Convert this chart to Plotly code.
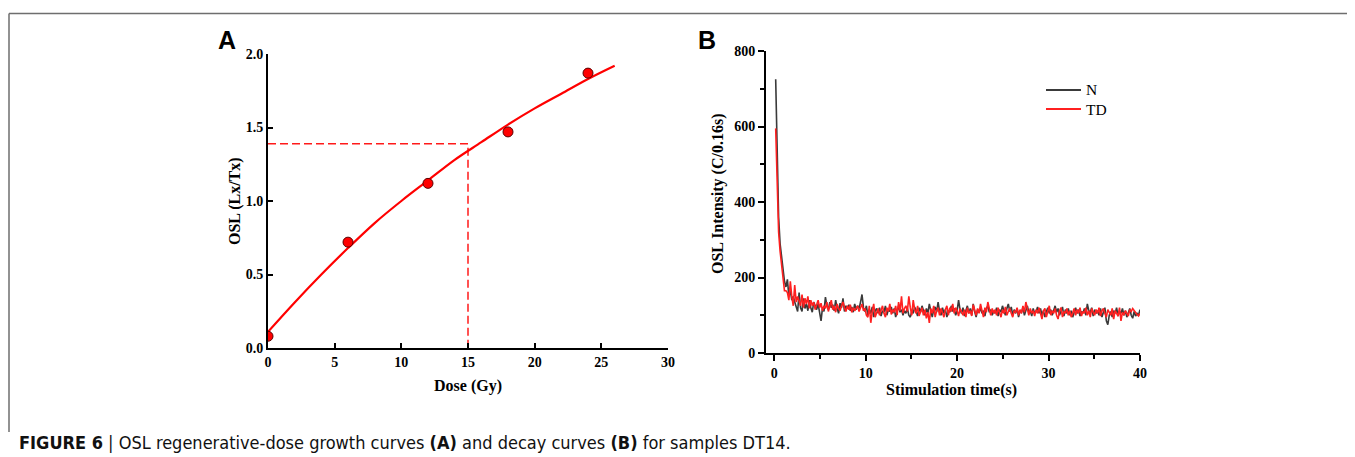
import plotly.graph_objects as go
import numpy as np

# The page body adds an 8 px margin, so the figure is sized to fit the window after that offset.
OFFSET = 8
W, H = 1355 - OFFSET, 457 - OFFSET

# ---------------- Panel A data ----------------
dose_points = [0, 6, 12, 18, 24]
ratio_points = [0.08, 0.72, 1.12, 1.47, 1.87]
fit_dose = [0, 2, 4, 6, 8, 10, 12, 14, 16, 18, 20, 22, 24, 26]
fit_ratio = [0.11, 0.31, 0.50, 0.68, 0.85, 1.00, 1.14, 1.28, 1.40, 1.52, 1.63, 1.73, 1.83, 1.92]
de_dose = 15.0
natural_ratio = 1.39

# ---------------- Panel B data ----------------
time_step = 0.16
series_names = ["N", "TD"]
series_colors = ["#3a3a3a", "#ff2020"]
signal_N = [
    725, 520, 360, 290, 255, 225, 190, 175, 195, 150,
    165, 140, 150, 135, 125, 110, 160, 120, 110, 145,
    118, 130, 112, 140, 120, 108, 135, 125, 115, 130,
    100, 85, 120, 110, 148, 125, 115, 135, 120, 128,
    112, 140, 118, 105, 132, 120, 145, 110, 125, 118,
    128, 112, 122, 108, 130, 115, 125, 118, 135, 155,
    120, 110, 125, 100, 115, 105, 122, 95, 112, 118,
    105, 120, 98, 112, 108, 125, 100, 115, 110, 122,
    105, 118, 95, 110, 125, 108, 115, 100, 112, 105,
    118, 100, 95, 110, 105, 122, 112, 98, 120, 108,
    125, 110, 100, 118, 105, 130, 112, 95, 115, 122,
    108, 135, 110, 100, 120, 105, 115, 95, 112, 108,
    125, 110, 118, 100, 112, 140, 115, 105, 120, 98,
    112, 125, 105, 118, 100, 130, 110, 95, 115, 108,
    120, 105, 112, 98, 118, 125, 108, 115, 100, 112,
    105, 120, 98, 115, 108, 125, 112, 100, 118, 130,
    110, 122, 100, 115, 105, 118, 95, 112, 108, 120,
    100, 115, 125, 108, 112, 98, 118, 105, 110, 122,
    105, 118, 100, 112, 95, 110, 120, 105, 115, 100,
    112, 125, 108, 118, 100, 110, 122, 98, 115, 105,
    118, 100, 112, 95, 108, 120, 105, 115, 98, 110,
    105, 118, 100, 130, 112, 108, 120, 98, 115, 105,
    112, 100, 118, 95, 108, 120, 85, 75, 100, 110,
    95, 112, 105, 120, 98, 110, 105, 118, 100, 112,
    95, 108, 118, 100, 92, 110, 98, 105, 100, 115,
]
signal_TD = [
    595, 420, 320, 270, 230, 195, 165, 165, 160, 140,
    190, 150, 125, 180, 135, 150, 140, 125, 155, 120,
    145, 130, 150, 118, 140, 125, 135, 115, 128, 140,
    120, 132, 112, 125, 118, 135, 110, 128, 140, 115,
    125, 108, 130, 118, 112, 125, 135, 120, 110, 125,
    115, 128, 108, 120, 112, 118, 125, 110, 120, 130,
    112, 118, 100, 95, 125, 80, 110, 130, 95, 105,
    118, 100, 112, 125, 105, 95, 120, 110, 130, 102,
    115, 108, 125, 100, 135, 112, 150, 105, 118, 125,
    110, 150, 120, 100, 140, 115, 105, 125, 98, 112,
    120, 100, 115, 92, 108, 80, 118, 105, 125, 95,
    112, 120, 100, 118, 108, 95, 115, 125, 100, 120,
    110, 130, 105, 120, 112, 98, 118, 108, 100, 115,
    95, 120, 105, 112, 98, 128, 110, 100, 118, 105,
    130, 110, 95, 120, 108, 135, 112, 100, 118, 105,
    115, 100, 120, 108, 95, 115, 105, 122, 100, 110,
    118, 105, 95, 112, 108, 120, 100, 115, 105, 125,
    108, 135, 112, 100, 118, 105, 112, 98, 115, 105,
    120, 100, 90, 112, 118, 95, 108, 125, 100, 112,
    105, 118, 100, 90, 112, 120, 95, 110, 105, 118,
    100, 112, 95, 108, 118, 100, 115, 105, 120, 98,
    110, 105, 120, 100, 112, 95, 118, 108, 100, 115,
    105, 120, 98, 112, 118, 105, 95, 115, 108, 100,
    118, 90, 112, 105, 98, 120, 85, 108, 100, 112,
    105, 98, 115, 110, 118, 112, 108, 102, 98, 105,
]
time_s = [round(time_step * (i + 1), 2) for i in range(len(signal_N))]

SERIF = "Liberation Serif, Times New Roman, serif"
SANS = "Liberation Sans, Arial, sans-serif"
RED = "#ff1a1a"


def px(x):
    """screen x (px) -> paper fraction"""
    return (x - OFFSET) / W


def py(y):
    """screen y (px, from top) -> paper fraction"""
    return 1 - (y - OFFSET) / H


fig = go.Figure()

# Panel A
fig.add_trace(go.Scatter(x=[0, de_dose, de_dose], y=[natural_ratio, natural_ratio, 0],
                         mode="lines", line=dict(color=RED, width=1.5, dash="8px,4px"),
                         xaxis="x", yaxis="y", showlegend=False, hoverinfo="skip"))
fig.add_trace(go.Scatter(x=fit_dose, y=fit_ratio, mode="lines",
                         line=dict(color="#ff0000", width=2.2, shape="spline"),
                         xaxis="x", yaxis="y", showlegend=False))
fig.add_trace(go.Scatter(x=dose_points, y=ratio_points, mode="markers",
                         marker=dict(color="#ff0000", size=10, line=dict(color="#5a0000", width=1)),
                         xaxis="x", yaxis="y", showlegend=False))

# Panel B
for name, color, sig in zip(series_names, series_colors, [signal_N, signal_TD]):
    fig.add_trace(go.Scatter(x=time_s, y=sig, mode="lines", name=name,
                             line=dict(color=color, width=1.6),
                             xaxis="x2", yaxis="y2", showlegend=False))

tickfont = dict(family=SERIF, size=14, color="black", weight="bold")
axis_common = dict(showline=True, linecolor="black", linewidth=2, showgrid=False,
                   zeroline=False, tickcolor="black", tickwidth=2, tickfont=tickfont,
                   automargin=False)

fig.update_layout(
    width=W, height=H,
    margin=dict(l=0, r=0, t=0, b=0, pad=0, autoexpand=False),
    paper_bgcolor="white", plot_bgcolor="white",
    showlegend=False,
    xaxis=dict(domain=[px(268), px(668)], range=[0, 30], anchor="y",
               ticks="inside", ticklen=5, tick0=0, dtick=5, **axis_common),
    yaxis=dict(domain=[py(348), py(54)], range=[0, 2.0], anchor="x",
               ticks="inside", ticklen=5, tick0=0, dtick=0.5, tickformat=".1f", **axis_common),
    xaxis2=dict(domain=[px(766), px(1140)], range=[-0.9, 40], anchor="y2",
                ticks="outside", ticklen=6, tick0=0, dtick=10,
                minor=dict(ticks="outside", ticklen=4, dtick=5, tick0=0, tickcolor="black", tickwidth=1.5),
                **axis_common),
    yaxis2=dict(domain=[py(353), py(51)], range=[0, 800], anchor="x2",
                ticks="outside", ticklen=6, tick0=0, dtick=200,
                minor=dict(ticks="outside", ticklen=4, dtick=100, tick0=0, tickcolor="black", tickwidth=1.5),
                **axis_common),
)

ann = []
title_font = dict(family=SERIF, size=16, color="black", weight="bold")
ann.append(dict(text="OSL (Lx/Tx)", x=px(235), y=py(201), textangle=-90, font=title_font))
ann.append(dict(text="Dose (Gy)", x=px(468), y=py(386), font=title_font))
ann.append(dict(text="OSL Intensity (C/0.16s)", x=px(718), y=py(194), textangle=-90, font=title_font))
ann.append(dict(text="Stimulation time(s)", x=px(952), y=py(390), font=title_font))
ann.append(dict(text="<b>A</b>", x=px(227), y=py(40), font=dict(family=SANS, size=25, color="black")))
ann.append(dict(text="<b>B</b>", x=px(707), y=py(40), font=dict(family=SANS, size=25, color="black")))
ann.append(dict(text="<b>FIGURE 6</b> | OSL regenerative-dose growth curves <b>(A)</b> and decay curves <b>(B)</b> for samples DT14.",
                x=px(17), y=py(442), xanchor="left",
                font=dict(family="Liberation Sans Narrow, DejaVu Sans Condensed, Liberation Sans, sans-serif", size=18, color="#111111")))

# Legend (drawn as line samples and labels)
legend_rows_y = [90, 109]
shapes = []
for name, color, ly in zip(series_names, series_colors, legend_rows_y):
    shapes.append(dict(type="line", xref="paper", yref="paper", x0=px(1046), x1=px(1081),
                       y0=py(ly), y1=py(ly), line=dict(color=color, width=2)))
    ann.append(dict(text=name, x=px(1084), y=py(ly), xanchor="left",
                    font=dict(family=SERIF, size=15.5, color="black")))

for a in ann:
    a.setdefault("xanchor", "center")
    a.update(xref="paper", yref="paper", yanchor="middle", showarrow=False)
fig.update_layout(annotations=ann)

frame = dict(color="#6e6e6e", width=1.5)
shapes += [
    dict(type="line", xref="paper", yref="paper", x0=px(9), x1=px(1354), y0=py(13.5), y1=py(13.5), line=frame),
    dict(type="line", xref="paper", yref="paper", x0=px(9), x1=px(9), y0=py(13.5), y1=py(432), line=frame),
    dict(type="line", xref="paper", yref="paper", x0=px(1354), x1=px(1354), y0=py(13.5), y1=py(432), line=frame),
]
fig.update_layout(shapes=shapes)

fig.write_html("out.html")
